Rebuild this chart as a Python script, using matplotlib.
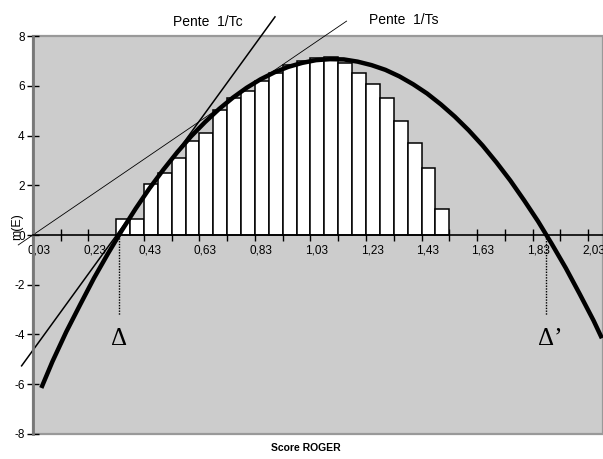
import matplotlib.pyplot as plt
from matplotlib.patches import Rectangle
from matplotlib.transforms import ScaledTranslation

plt.rcParams['font.family'] = ['Liberation Sans', 'DejaVu Sans']

# histogram of m(E) per score class (left edge of each class, width 0.05)
bar_left = [0.33, 0.38, 0.43, 0.48, 0.53, 0.58, 0.63, 0.68, 0.73, 0.78, 0.83, 0.88,
            0.93, 0.98, 1.03, 1.08, 1.13, 1.18, 1.23, 1.28, 1.33, 1.38, 1.43, 1.48]
bar_height = [0.63, 0.63, 2.04, 2.50, 3.08, 3.78, 4.11, 5.01, 5.49, 5.78, 6.21, 6.52,
              6.85, 6.99, 7.10, 7.15, 6.92, 6.52, 6.08, 5.51, 4.58, 3.71, 2.68, 1.03]
bar_width = 0.05

# fitted curve
curve_x = [0.06, 0.10, 0.15, 0.20, 0.25, 0.30, 0.35, 0.40, 0.45, 0.50, 0.55, 0.60,
           0.65, 0.70, 0.75, 0.80, 0.85, 0.90, 0.95, 1.00, 1.05, 1.10, 1.15, 1.20,
           1.25, 1.30, 1.35, 1.40, 1.45, 1.50, 1.55, 1.60, 1.65, 1.70, 1.75, 1.80,
           1.85, 1.90, 1.95, 2.00, 2.05, 2.08]
curve_y = [-6.15, -5.09, -3.89, -2.80, -1.73, -0.75, 0.18, 1.06, 1.88, 2.63, 3.33, 3.97,
           4.54, 5.06, 5.52, 5.92, 6.26, 6.54, 6.76, 6.92, 7.03, 7.07, 7.06, 6.97,
           6.83, 6.64, 6.38, 6.06, 5.69, 5.25, 4.76, 4.21, 3.60, 2.92, 2.19, 1.39,
           0.55, -0.37, -1.33, -2.37, -3.44, -4.15]

# tangent lines (end points)
tc_x = [-0.011, 0.902]
tc_y = [-5.26, 8.77]
ts_x = [-0.023, 1.160]
ts_y = [-0.40, 8.60]

delta1 = 0.34
delta2 = 1.88

xticks = [0.03, 0.23, 0.43, 0.63, 0.83, 1.03, 1.23, 1.43, 1.63, 1.83, 2.03]
xminor = [0.13, 0.33, 0.53, 0.73, 0.93, 1.13, 1.33, 1.53, 1.73, 1.93]
yticks = [-8, -6, -4, -2, 0, 2, 4, 6, 8]

fig = plt.figure(figsize=(6.03, 4.59), dpi=100)
ax = fig.add_axes([0.0547, 0.0545, 0.9453, 0.867])
ax.set_facecolor('#cccccc')
ax.set_xlim(0.03, 2.084)
ax.set_ylim(-8, 8)

ax.bar(bar_left, bar_height, width=bar_width, align='edge', color='white',
       edgecolor='black', linewidth=1.1, zorder=2)

ax.plot(curve_x, curve_y, color='black', lw=3.2, solid_capstyle='butt',
        solid_joinstyle='round', zorder=4)
ax.plot(tc_x, tc_y, color='black', lw=1.1, clip_on=False, zorder=3)
ax.plot(ts_x, ts_y, color='black', lw=0.6, clip_on=False, zorder=3)

# dotted drop lines at the roots
for d in (delta1, delta2):
    ax.plot([d, d], [0, -3.2], color='black', lw=1, ls=(0, (1, 1)), zorder=3)
ax.text(delta1, -4.2, 'Δ', family='Liberation Serif', fontsize=18,
        ha='center', va='center')
ax.text(delta2 - 0.032, -4.2, 'Δ’', family='Liberation Serif', fontsize=18,
        ha='left', va='center')

# axes styling: x axis through zero, y axis on the left
for s in ('top', 'right'):
    ax.spines[s].set_visible(False)
ax.spines['bottom'].set_position(('data', 0))
ax.spines['bottom'].set_linewidth(1.2)
ax.spines['left'].set_color('#777777')
ax.spines['left'].set_linewidth(2)
ax.spines['bottom'].set_zorder(5)
ax.spines['left'].set_zorder(5)

# plot-area border
ax.add_patch(Rectangle((0, 0), 1, 1, transform=ax.transAxes, fill=False,
                       edgecolor='#999999', lw=1.6, clip_on=False, zorder=1))

ax.set_xticks(xticks)
ax.set_xticklabels([f'{v:.2f}'.replace('.', ',') for v in xticks])
ax.set_xticks(xminor, minor=True)
ax.tick_params(axis='x', which='both', direction='inout', length=8, width=1,
               labelsize=8.5, pad=3)
offset = ScaledTranslation(6 / 100, 0, fig.dpi_scale_trans)
for lab in ax.get_xticklabels():
    lab.set_transform(lab.get_transform() + offset)

ax.set_yticks(yticks)
ax.set_yticklabels([str(v) for v in yticks])
ax.tick_params(axis='y', direction='inout', length=8, width=1, labelsize=8.5, pad=2)

fig.text(17 / 603, 1 - 227 / 459, 'm(E)', rotation=90, fontsize=9,
         ha='center', va='center')
fig.text(306 / 603, 1 - 448 / 459, 'Score ROGER', fontsize=7.5,
         fontweight='bold', ha='center', va='center')
fig.text(208 / 603, 1 - 22 / 459, 'Pente  1/Tc', fontsize=10,
         ha='center', va='center')
fig.text(404 / 603, 1 - 20 / 459, 'Pente  1/Ts', fontsize=10,
         ha='center', va='center')

fig.savefig('out.png', dpi=100)
